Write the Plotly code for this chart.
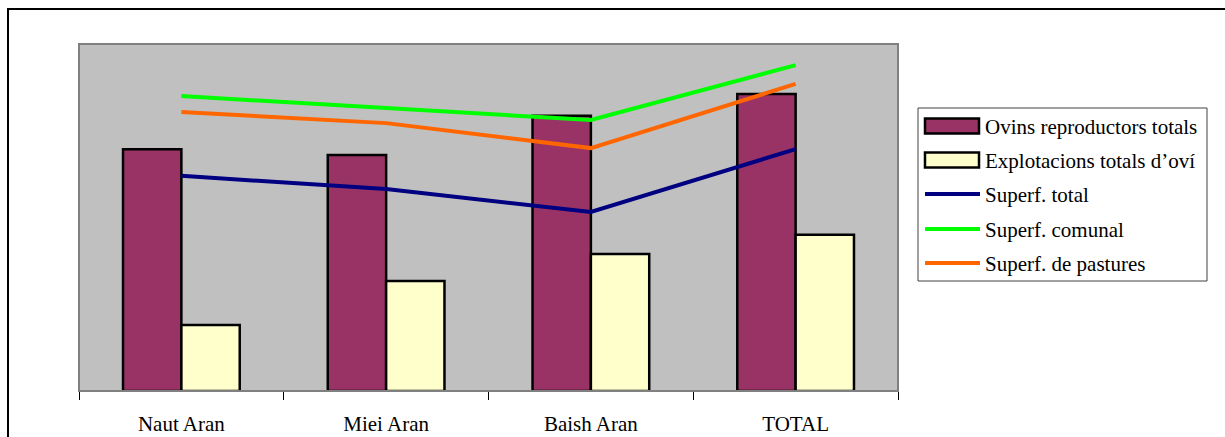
import plotly.graph_objects as go

# Comarques de la Val d'Aran (index scale, 0-100)
categories = ["Naut Aran", "Miei Aran", "Baish Aran", "TOTAL"]
ovins_reproductors = [69.7, 68.0, 79.3, 85.6]
explotacions_ovi = [19.0, 31.7, 39.5, 45.0]
superf_total = [62.0, 58.2, 51.6, 69.7]
superf_comunal = [85.0, 81.6, 78.1, 93.9]
superf_pastures = [80.4, 77.2, 70.0, 88.5]

FONT = "Liberation Serif, Times New Roman, serif"
PURPLE, CREAM = "#993366", "#FFFFCC"
NAVY, GREEN, ORANGE = "#000080", "#00FF00", "#FF6600"

fig = go.Figure()
fig.add_trace(go.Bar(
    x=categories, y=ovins_reproductors, name="Ovins reproductors totals",
    marker=dict(color=PURPLE, line=dict(color="black", width=2.5)),
))
fig.add_trace(go.Bar(
    x=categories, y=explotacions_ovi, name="Explotacions totals d\u2019oví",
    marker=dict(color=CREAM, line=dict(color="black", width=2.5)),
))
fig.add_trace(go.Scatter(
    x=categories, y=superf_total, name="Superf. total", mode="lines",
    line=dict(color=NAVY, width=4),
))
fig.add_trace(go.Scatter(
    x=categories, y=superf_comunal, name="Superf. comunal", mode="lines",
    line=dict(color=GREEN, width=4),
))
fig.add_trace(go.Scatter(
    x=categories, y=superf_pastures, name="Superf. de pastures", mode="lines",
    line=dict(color=ORANGE, width=4),
))

W, H = 1225, 437
L, R, T, B = 79, 327, 44, 46
pw, ph = W - L - R, H - T - B


def px_x(x):
    return (x - L) / pw


def px_y(y):
    return (H - B - y) / ph


shapes = [
    # plot-area frame
    dict(type="rect", xref="paper", yref="paper", x0=0, y0=0, x1=1, y1=1,
         line=dict(color="#808080", width=2), layer="above"),
    # outer chart frame
    dict(type="rect", xref="paper", yref="paper",
         x0=px_x(8), y0=px_y(460), x1=px_x(1260), y1=px_y(9),
         line=dict(color="black", width=2)),
    # legend box
    dict(type="rect", xref="paper", yref="paper",
         x0=px_x(918), y0=px_y(281), x1=px_x(1207), y1=px_y(108),
         line=dict(color="#404040", width=1), fillcolor="white"),
]
annotations = []

# legend entries: (label, kind, colour, row centre)
legend_rows = [
    (fig.data[0].name, "bar", PURPLE, 126),
    (fig.data[1].name, "bar", CREAM, 160),
    (fig.data[2].name, "line", NAVY, 194),
    (fig.data[3].name, "line", GREEN, 229),
    (fig.data[4].name, "line", ORANGE, 263),
]
for label, kind, colour, yc in legend_rows:
    if kind == "bar":
        shapes.append(dict(
            type="rect", xref="paper", yref="paper",
            x0=px_x(925), x1=px_x(979), y0=px_y(yc + 7.5), y1=px_y(yc - 7.5),
            fillcolor=colour, line=dict(color="black", width=2.5)))
    else:
        shapes.append(dict(
            type="line", xref="paper", yref="paper",
            x0=px_x(925), x1=px_x(980), y0=px_y(yc), y1=px_y(yc),
            line=dict(color=colour, width=4)))
    annotations.append(dict(
        text=label, xref="paper", yref="paper", x=px_x(983), y=px_y(yc + 1),
        xanchor="left", yanchor="middle", showarrow=False,
        font=dict(family=FONT, size=21, color="black")))

fig.update_layout(
    width=W, height=H,
    margin=dict(l=L, r=R, t=T, b=B, autoexpand=False),
    paper_bgcolor="white",
    plot_bgcolor="#C0C0C0",
    barmode="group",
    bargap=0.43,
    bargroupgap=0,
    font=dict(family=FONT, size=21, color="black"),
    showlegend=False,
    xaxis=dict(
        showline=True, linecolor="black", linewidth=1,
        ticks="outside", tickson="boundaries", ticklen=8, tickcolor="black",
        tickfont=dict(family=FONT, size=21), ticklabelstandoff=14,
        showgrid=False, zeroline=False, automargin=False,
    ),
    yaxis=dict(
        range=[0, 100], showticklabels=False, showgrid=False,
        zeroline=False, ticks="", automargin=False,
    ),
    shapes=shapes,
    annotations=annotations,
)

fig.write_html("out.html")
